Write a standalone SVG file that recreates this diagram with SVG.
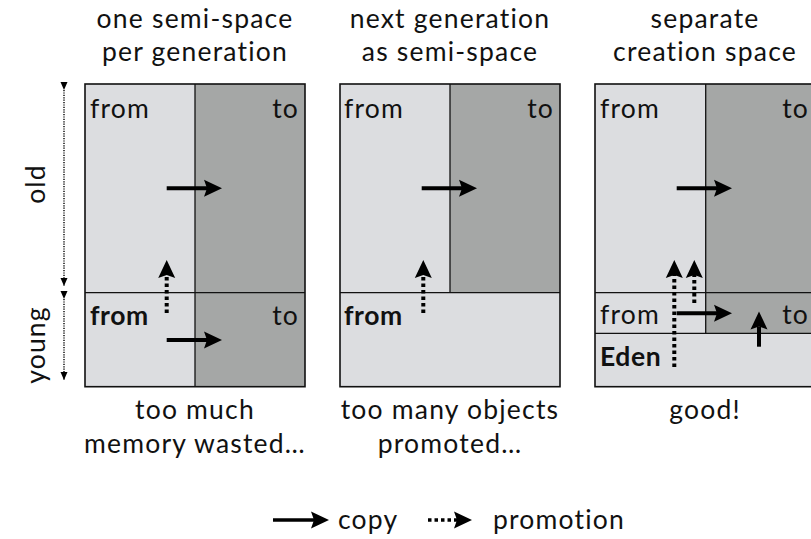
<svg xmlns="http://www.w3.org/2000/svg" width="811" height="539" viewBox="0 0 811 539">
<style>
text{font-family:Lato,"Noto Sans","DejaVu Sans",sans-serif;font-size:26.5px;letter-spacing:1.2px;fill:#111}
.b{font-weight:bold;letter-spacing:0.6px}
.m{text-anchor:middle}
.e{text-anchor:end}
.light{fill:#dcdde0}
.dark{fill:#a5a7a6}
.bd{fill:none;stroke:#111;stroke-width:1.6}
.ln{stroke:#111;stroke-width:1.3;fill:none}
.copy{stroke:#000;stroke-width:4;fill:none;marker-end:url(#head)}
.promo{stroke:#000;stroke-width:4;fill:none;stroke-dasharray:3.5 3;marker-end:url(#head)}
.axis{stroke:#111;stroke-width:1.5;fill:none;stroke-dasharray:1.2 1.2}
</style>
<defs>
<marker id="head" markerUnits="userSpaceOnUse" viewBox="-1 -10 20 20" markerWidth="20" markerHeight="20" refX="3" refY="0" orient="auto">
<path d="M0,-8.5 L18,0 L0,8.5 L3,0 Z" fill="#000"/>
</marker>
<marker id="small" markerUnits="userSpaceOnUse" viewBox="0 -4 8 8" markerWidth="8" markerHeight="8" refX="8" refY="0" orient="auto">
<path d="M0,-3.5 L8,0 L0,3.5 Z" fill="#000"/>
</marker>
</defs>

<g id="panel1">
<text class="m" x="195" y="28">one semi-space</text>
<text class="m" x="195" y="61">per generation</text>
<rect class="light" x="85" y="84" width="110" height="302.7"/>
<rect class="dark" x="195" y="84" width="110" height="302.7"/>
<line class="ln" x1="195" y1="84" x2="195" y2="386.7"/>
<line class="ln" x1="85" y1="292.7" x2="305" y2="292.7"/>
<rect class="bd" x="85" y="84" width="220" height="302.7"/>
<text x="90" y="118">from</text>
<text class="e" x="299" y="118">to</text>
<text class="b" x="90" y="325">from</text>
<text class="e" x="299" y="325">to</text>
<text class="m" x="195" y="419">too much</text>
<text class="m" x="195" y="453">memory wasted…</text>
</g>

<g id="panel2">
<text class="m" x="450" y="28">next generation</text>
<text class="m" x="450" y="61">as semi-space</text>
<rect class="light" x="340" y="84" width="220" height="302.7"/>
<rect class="dark" x="450" y="84" width="110" height="208.7"/>
<line class="ln" x1="450" y1="84" x2="450" y2="292.7"/>
<line class="ln" x1="340" y1="292.7" x2="560" y2="292.7"/>
<rect class="bd" x="340" y="84" width="220" height="302.7"/>
<text x="344" y="118">from</text>
<text class="e" x="554" y="118">to</text>
<text class="b" x="344" y="325">from</text>
<text class="m" x="450" y="419">too many objects</text>
<text class="m" x="450" y="453">promoted…</text>
</g>

<g id="panel3">
<text class="m" x="705" y="28">separate</text>
<text class="m" x="705" y="61">creation space</text>
<rect class="light" x="595" y="84" width="220" height="302.7"/>
<rect class="dark" x="705.7" y="84" width="109.3" height="249.3"/>
<line class="ln" x1="705.7" y1="84" x2="705.7" y2="333.3"/>
<line class="ln" x1="595" y1="292.7" x2="815" y2="292.7"/>
<line class="ln" x1="595" y1="333.3" x2="815" y2="333.3"/>
<rect class="bd" x="595" y="84" width="220" height="302.7"/>
<text x="600" y="118">from</text>
<text class="e" x="809" y="118">to</text>
<text x="600" y="324">from</text>
<text class="e" x="809" y="324">to</text>
<text class="b" x="600" y="366">Eden</text>
<text class="m" x="705" y="419">good!</text>
</g>

<g id="axis">
<line class="axis" x1="64" y1="90" x2="64" y2="286" marker-start="url(#small)" marker-end="url(#small)"/>
<line class="axis" x1="64" y1="299" x2="64" y2="380" marker-start="url(#small)" marker-end="url(#small)"/>
<text class="m" transform="translate(45,184) rotate(-90)">old</text>
<text class="m" transform="translate(45,345) rotate(-90)">young</text>
</g>

<g id="connectors">
<line class="copy" x1="166.7" y1="188.3" x2="207" y2="188.3"/>
<line class="copy" x1="166.7" y1="340" x2="207" y2="340"/>
<line class="promo" x1="166.7" y1="313" x2="166.7" y2="275"/>
<line class="copy" x1="421.7" y1="188.3" x2="462" y2="188.3"/>
<line class="promo" x1="423.3" y1="313" x2="423.3" y2="275"/>
<line class="copy" x1="676.7" y1="188.3" x2="717" y2="188.3"/>
<line class="copy" x1="676.7" y1="313.3" x2="717" y2="313.3"/>
<line class="copy" x1="759" y1="346.7" x2="759" y2="326.5"/>
<line class="promo" x1="674.3" y1="367" x2="674.3" y2="275"/>
<line class="promo" x1="694.3" y1="303" x2="694.3" y2="275"/>
</g>

<g id="legend">
<line class="copy" x1="273" y1="520" x2="314" y2="520" style="stroke-width:3.4"/>
<text x="338" y="529">copy</text>
<line class="promo" x1="428" y1="520" x2="457" y2="520" style="stroke-width:3.4"/>
<text x="493" y="529">promotion</text>
</g>
</svg>
